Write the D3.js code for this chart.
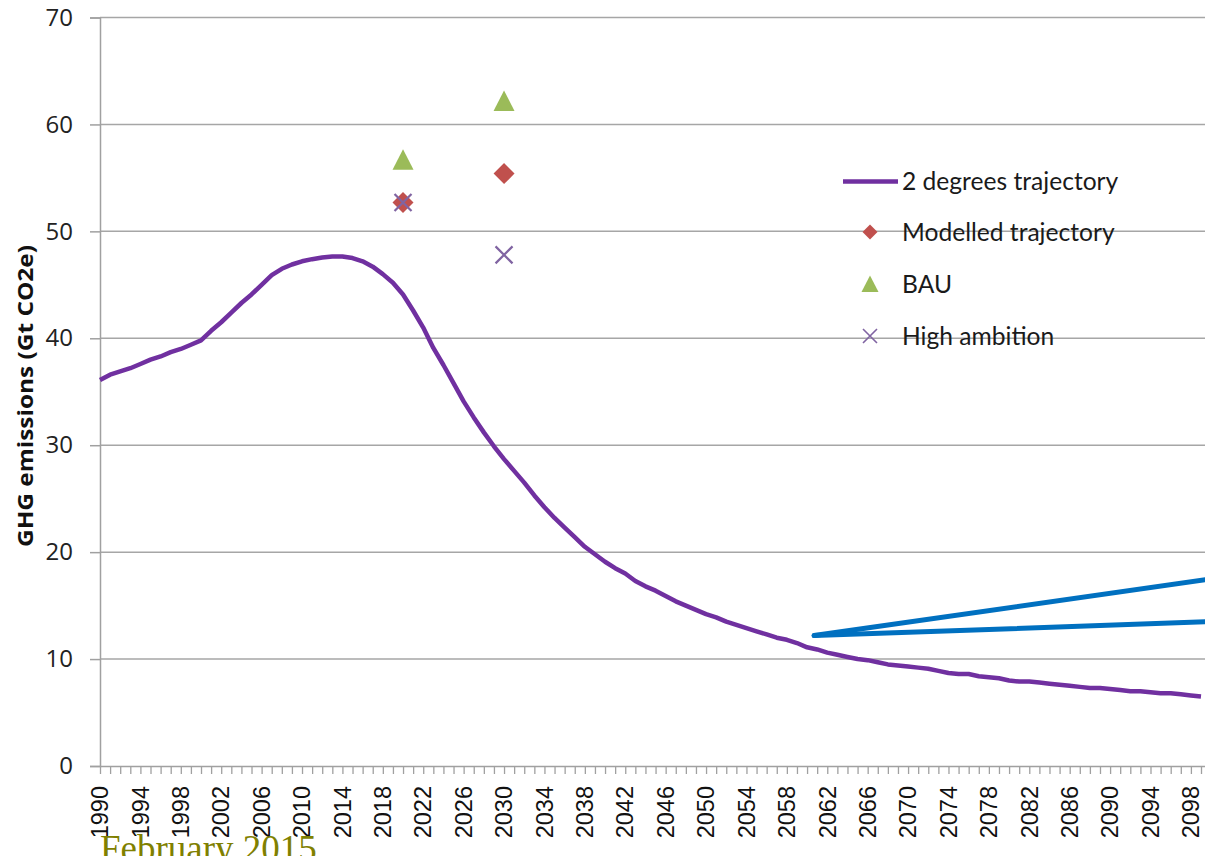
<!DOCTYPE html>
<html><head><meta charset="utf-8">
<script src="https://cdn.jsdelivr.net/npm/d3@7"></script>
<style>body{margin:0;background:#fff;overflow:hidden}svg{display:block}</style>
</head><body>
<svg id="c" width="1205" height="856"></svg>
<script>
const years = d3.range(1990, 2100);
const twoDegrees = [
36.1,36.6,36.9,37.2,37.6,38.0,38.3,38.7,39.0,39.4,
39.8,40.7,41.5,42.4,43.3,44.1,45.0,45.9,46.5,46.9,
47.2,47.4,47.55,47.65,47.65,47.5,47.2,46.7,46.0,45.2,
44.1,42.6,41.0,39.1,37.5,35.8,34.1,32.6,31.2,29.9,
28.7,27.6,26.5,25.3,24.2,23.2,22.3,21.4,20.5,19.8,
19.1,18.5,18.0,17.3,16.8,16.4,15.9,15.4,15.0,14.6,
14.2,13.9,13.5,13.2,12.9,12.6,12.3,12.0,11.8,11.5,
11.1,10.9,10.6,10.4,10.2,10.0,9.9,9.7,9.5,9.4,
9.3,9.2,9.1,8.9,8.7,8.6,8.6,8.4,8.3,8.2,
8.0,7.9,7.9,7.8,7.7,7.6,7.5,7.4,7.3,7.3,
7.2,7.1,7.0,7.0,6.9,6.8,6.8,6.7,6.6,6.5];
const markerYears = [2020, 2030];
const modelled = [52.7, 55.4];
const bau = [56.7, 62.2];
const highAmbition = [52.7, 47.8];
const blueUpperYears = [2060.7, 2100];
const blueUpper = [12.2, 17.5];
const blueLowerYears = [2060.7, 2100];
const blueLower = [12.2, 13.5];
const yTicks = [0,10,20,30,40,50,60,70];
const xLabelYears = d3.range(1990, 2100, 4);
const legendLabels = ["2 degrees trajectory","Modelled trajectory","BAU","High ambition"];

const svg = d3.select("#c");
const x = d3.scaleLinear().domain([1990, 2099]).range([100, 1201]);
const y = d3.scaleLinear().domain([0, 70]).range([766, 17.5]);
const axisCol = "#a0a0a0";

// gridlines
svg.append("g").selectAll("line").data(yTicks.filter(d=>d>0)).join("line")
  .attr("x1",100).attr("x2",1205).attr("y1",d=>y(d)).attr("y2",d=>y(d))
  .attr("stroke","#a6a6a6").attr("stroke-width",1.5);

// y axis
const ya = svg.append("g").attr("transform","translate(100,0)")
  .call(d3.axisLeft(y).tickValues(yTicks).tickSize(10).tickPadding(17).tickFormat(d3.format("d")));
ya.select(".domain").attr("stroke",axisCol).attr("stroke-width",1.5);
ya.selectAll(".tick line").attr("stroke",axisCol).attr("stroke-width",1.5);
ya.selectAll("text").attr("font-family","Open Sans").attr("font-size",24).attr("fill","#222");

// x axis
const xa = svg.append("g").attr("transform","translate(0,766)")
  .call(d3.axisBottom(x).tickValues(years).tickSize(8).tickFormat(""));
xa.select(".domain").attr("stroke",axisCol).attr("stroke-width",1.5).attr("d","M100,0.5H1205");
xa.selectAll(".tick line").attr("stroke",axisCol).attr("stroke-width",1.3);

svg.append("g").selectAll("text").data(xLabelYears).join("text")
  .attr("transform",d=>`translate(${x(d)},786) rotate(-90)`)
  .attr("text-anchor","end").attr("dy","0.35em")
  .attr("font-family","Liberation Sans").attr("font-size",23.5).attr("fill","#111")
  .text(d=>d);

// y title
svg.append("text").attr("transform","translate(26,396) rotate(-90)")
  .attr("text-anchor","middle").attr("dy","0.35em").attr("font-family","Open Sans").attr("font-weight","bold")
  .attr("font-size",21).attr("textLength",302).attr("lengthAdjust","spacingAndGlyphs")
  .attr("fill","#111").text("GHG emissions (Gt CO2e)");

// blue lines
const line = d3.line().x(d=>x(d[0])).y(d=>y(d[1]));
svg.append("path").attr("d",line(blueUpperYears.map((d,i)=>[d,blueUpper[i]])))
  .attr("fill","none").attr("stroke","#0070c0").attr("stroke-width",5).attr("stroke-linecap","round");
svg.append("path").attr("d",line(blueLowerYears.map((d,i)=>[d,blueLower[i]])))
  .attr("fill","none").attr("stroke","#0070c0").attr("stroke-width",5).attr("stroke-linecap","round");

// purple trajectory
svg.append("path").attr("d",line(years.map((d,i)=>[d,twoDegrees[i]])))
  .attr("fill","none").attr("stroke","#7030a0").attr("stroke-width",4.5).attr("stroke-linejoin","round");

// markers
const diamond = s => `M0,${-s}L${s},0L0,${s}L${-s},0Z`;
const tri = s => `M0,${-s}L${s},${s*0.95}L${-s},${s*0.95}Z`;
const cross = s => `M${-s},${-s}L${s},${s}M${-s},${s}L${s},${-s}`;
svg.append("g").selectAll("path").data(markerYears).join("path")
  .attr("transform",(d,i)=>`translate(${x(d)},${y(modelled[i])})`).attr("d",diamond(10.5)).attr("fill","#c0504d");
svg.append("g").selectAll("path").data(markerYears).join("path")
  .attr("transform",(d,i)=>`translate(${x(d)},${y(bau[i])})`).attr("d",tri(10.5)).attr("fill","#9bbb59");
svg.append("g").selectAll("path").data(markerYears).join("path")
  .attr("transform",(d,i)=>`translate(${x(d)},${y(highAmbition[i])})`).attr("d",cross(8.5))
  .attr("stroke","#8064a2").attr("stroke-width",2.2).attr("fill","none");

// legend
const lg = svg.append("g").attr("font-family","Lato").attr("font-size",24.6).attr("fill","#1a1a1a");
const ly = [181.5, 232, 284, 336];
lg.append("line").attr("x1",843).attr("x2",898).attr("y1",ly[0]).attr("y2",ly[0])
  .attr("stroke","#7030a0").attr("stroke-width",4.5);
lg.append("path").attr("transform",`translate(870,${ly[1]})`).attr("d",diamond(7.5)).attr("fill","#c0504d");
lg.append("path").attr("transform",`translate(870,${ly[2]})`).attr("d",tri(8.5)).attr("fill","#9bbb59");
lg.append("path").attr("transform",`translate(870,${ly[3]})`).attr("d",cross(7))
  .attr("stroke","#8064a2").attr("stroke-width",1.6).attr("fill","none");
lg.selectAll("text").data(legendLabels).join("text")
  .attr("x",902).attr("y",(d,i)=>ly[i]).attr("dy","0.36em").text(d=>d);

// footer
svg.append("text").attr("x",100).attr("y",861).attr("font-family","Liberation Serif")
  .attr("font-size",37).attr("fill","#808000").text("February 2015");
</script>
</body></html>
